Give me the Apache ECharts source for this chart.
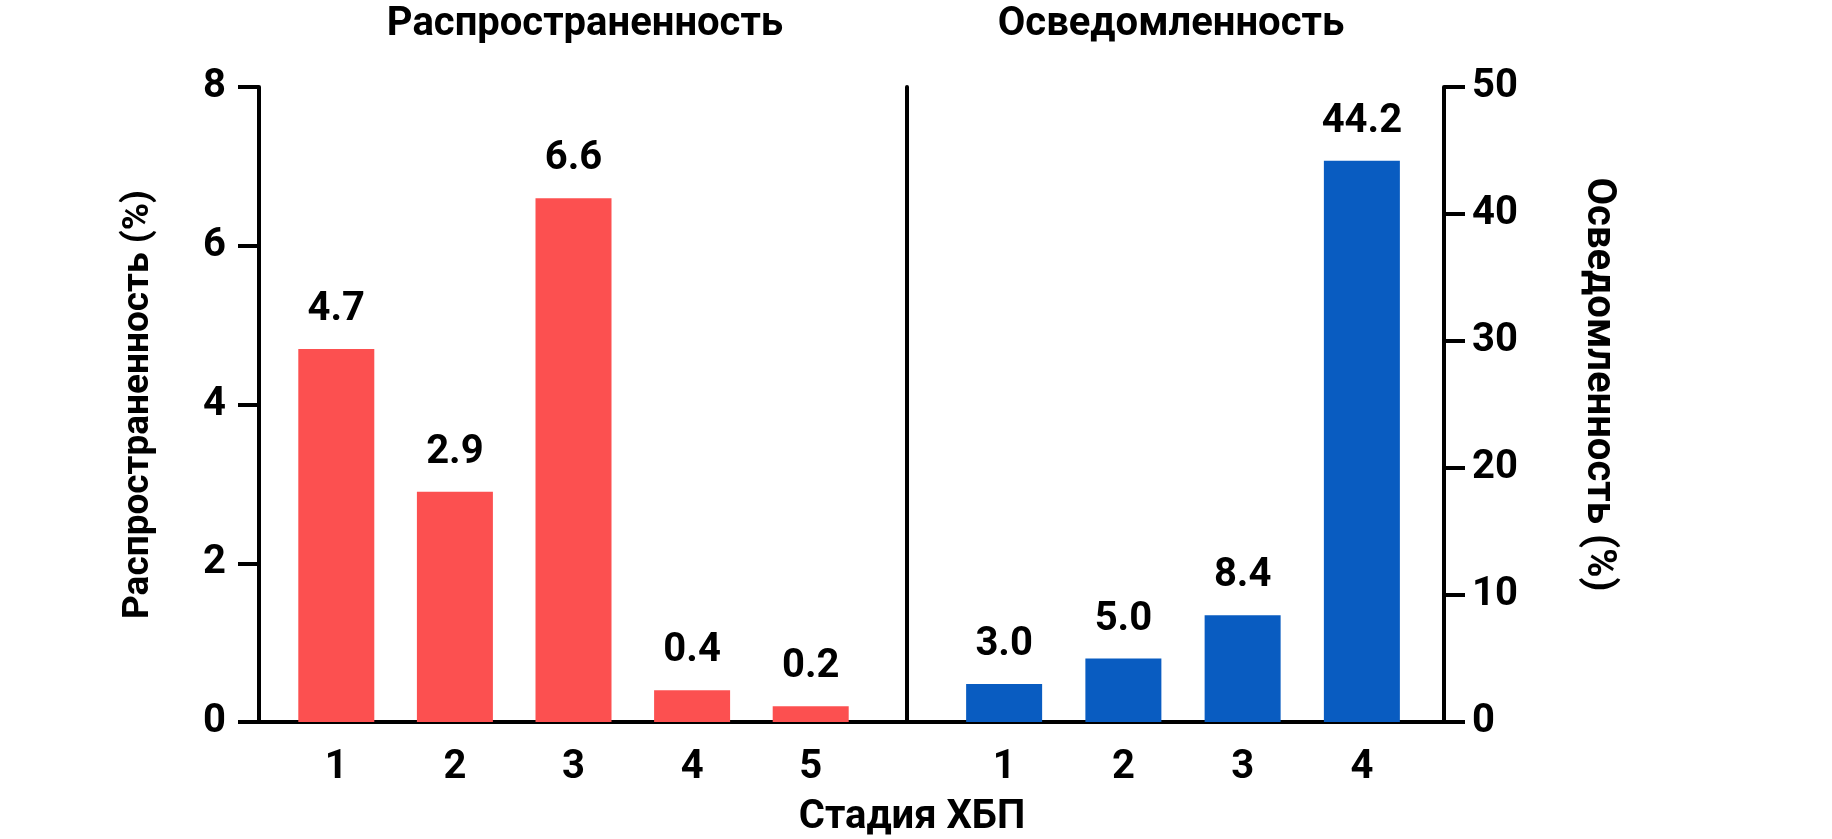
<!DOCTYPE html>
<html>
<head>
<meta charset="utf-8">
<script src="https://cdn.jsdelivr.net/npm/echarts@6/dist/echarts.min.js"></script>
<style>
  body { margin: 0; background: #fff; }
  #main { width: 1832px; height: 839px; }
</style>
</head>
<body>
<div id="main"></div>
<script>
// распространенность по стадиям ХБП (%)
const prevalenceStages = ['1', '2', '3', '4', '5'];
const prevalenceValues = [4.7, 2.9, 6.6, 0.4, 0.2];

// осведомленность по стадиям ХБП (%)
const awarenessStages = ['1', '2', '3', '4'];
const awarenessValues = [3.0, 5.0, 8.4, 44.2];

const FONT = 'Roboto';
const FS = 40;
const textBase = { fontFamily: FONT, fontWeight: 'bold', color: '#000', fontSize: FS };
const black = { color: '#000', width: 4 };

const chart = echarts.init(document.getElementById('main'));

chart.setOption({
  animation: false,
  title: [
    { text: 'Распространенность', left: 580, top: 0, textAlign: 'center', textStyle: textBase },
    { text: 'Осведомленность', left: 1166, top: 0, textAlign: 'center', textStyle: textBase },
    { text: 'Стадия ХБП', left: 907, top: 793, textAlign: 'center', textStyle: textBase }
  ],
  grid: [
    { left: 277, width: 593, top: 87, height: 635 },
    { left: 944.5, width: 477, top: 87, height: 635 },
    { left: 259, width: 1185, top: 87, height: 635 }
  ],
  xAxis: [
    {
      type: 'category', gridIndex: 0, data: prevalenceStages,
      axisLine: { show: false }, axisTick: { show: false },
      axisLabel: Object.assign({ margin: 26 }, textBase)
    },
    {
      type: 'category', gridIndex: 1, data: awarenessStages,
      axisLine: { show: false }, axisTick: { show: false },
      axisLabel: Object.assign({ margin: 26 }, textBase)
    },
    {
      // общая нижняя ось через обе панели
      type: 'value', gridIndex: 2, min: 0, max: 1,
      axisLine: { show: true, lineStyle: black },
      axisTick: { show: false }, axisLabel: { show: false }, splitLine: { show: false }
    }
  ],
  yAxis: [
    {
      type: 'value', gridIndex: 0, min: 0, max: 8, interval: 2, offset: 18,
      name: 'Распространенность (%)', nameLocation: 'middle', nameGap: 102,
      nameTextStyle: Object.assign({}, textBase, { fontSize: 37 }),
      axisLine: { show: true, lineStyle: black },
      axisTick: { show: true, length: 21, lineStyle: black },
      axisLabel: Object.assign({ margin: 33 }, textBase),
      splitLine: { show: false }
    },
    {
      // разделитель панелей
      type: 'value', gridIndex: 0, position: 'right', offset: 37, min: 0, max: 8,
      axisLine: { show: true, lineStyle: black },
      axisTick: { show: false }, axisLabel: { show: false }, splitLine: { show: false }
    },
    {
      type: 'value', gridIndex: 1, position: 'right', offset: 22.5, min: 0, max: 50, interval: 10,
      name: 'Осведомленность (%)', nameLocation: 'middle', nameGap: 134, nameRotate: -90,
      nameTextStyle: Object.assign({}, textBase, { fontSize: 40, padding: [0, 40, 0, 0] }),
      axisLine: { show: true, lineStyle: black },
      axisTick: { show: true, length: 21, lineStyle: black },
      axisLabel: Object.assign({ margin: 28 }, textBase),
      splitLine: { show: false }
    },
    {
      type: 'value', gridIndex: 2, show: false, min: 0, max: 1
    }
  ],
  series: [
    {
      type: 'bar', xAxisIndex: 0, yAxisIndex: 0, data: prevalenceValues,
      barWidth: 76, itemStyle: { color: '#fc5050' },
      label: Object.assign({
        show: true, position: 'top', distance: 19,
        formatter: p => p.value.toFixed(1)
      }, textBase)
    },
    {
      type: 'bar', xAxisIndex: 1, yAxisIndex: 2, data: awarenessValues,
      barWidth: 76, itemStyle: { color: '#095cc1' },
      label: Object.assign({
        show: true, position: 'top', distance: 19,
        formatter: p => p.value.toFixed(1)
      }, textBase)
    }
  ]
});
</script>
</body>
</html>
